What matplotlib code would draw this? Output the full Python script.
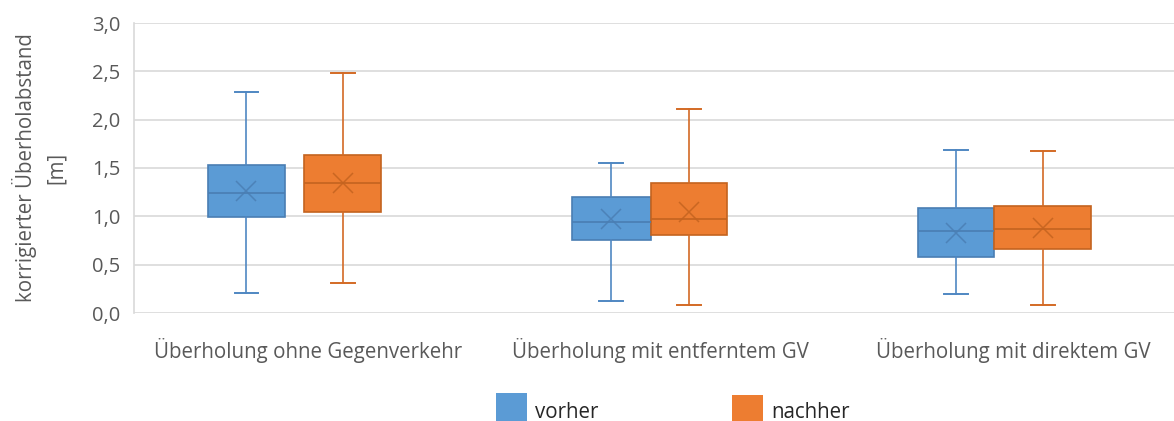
import matplotlib
matplotlib.use("Agg")
import matplotlib.pyplot as plt
from matplotlib.patches import Rectangle

# ---- data ----
categories = ["Überholung ohne Gegenverkehr", "Überholung mit entferntem GV", "Überholung mit direktem GV"]
series = ["vorher", "nachher"]

vorher_whislo = [0.21, 0.12, 0.20]
vorher_q1 = [0.99, 0.76, 0.58]
vorher_med = [1.24, 0.94, 0.85]
vorher_q3 = [1.53, 1.20, 1.09]
vorher_whishi = [2.29, 1.55, 1.69]
vorher_mean = [1.26, 0.97, 0.83]

nachher_whislo = [0.31, 0.08, 0.08]
nachher_q1 = [1.05, 0.81, 0.66]
nachher_med = [1.35, 0.97, 0.87]
nachher_q3 = [1.63, 1.34, 1.11]
nachher_whishi = [2.48, 2.11, 1.68]
nachher_mean = [1.34, 1.05, 0.88]

yticks = [0.0, 0.5, 1.0, 1.5, 2.0, 2.5, 3.0]
ytick_labels = ["0,0", "0,5", "1,0", "1,5", "2,0", "2,5", "3,0"]
ylabel = "korrigierter Überholabstand\n[m]"

# ---- layout ----
W, H = 1174, 421
FONT = ["Open Sans", "DejaVu Sans"]
plt.rcParams["font.family"] = FONT

fig = plt.figure(figsize=(W / 100, H / 100), dpi=100)
ax_left, ax_right, ax_top, ax_bot = 134, 1189, 23, 313
ax = fig.add_axes([ax_left / W, (H - ax_bot) / H, (ax_right - ax_left) / W, (ax_bot - ax_top) / H])

blue_off = [-0.1745, -0.140, -0.162]
orange_off = [0.098, 0.081, 0.084]
blue_w = [0.218, 0.224, 0.216]
orange_w = [0.218, 0.216, 0.275]
cap_w = 0.068

styles = {
    "vorher": dict(fill="#5B9BD5", edge="#4A7EB3", line="#4F87C2"),
    "nachher": dict(fill="#ED7D31", edge="#C4631F", line="#D36A25"),
}


def make_stats(lo, q1, med, q3, hi, mean):
    return [dict(whislo=a, q1=b, med=c, q3=d, whishi=e, mean=f, fliers=[])
            for a, b, c, d, e, f in zip(lo, q1, med, q3, hi, mean)]


data = {
    "vorher": (make_stats(vorher_whislo, vorher_q1, vorher_med, vorher_q3, vorher_whishi, vorher_mean), blue_off, blue_w),
    "nachher": (make_stats(nachher_whislo, nachher_q1, nachher_med, nachher_q3, nachher_whishi, nachher_mean), orange_off, orange_w),
}

for name in series:
    stats, offs, widths = data[name]
    st = styles[name]
    pos = [i + o for i, o in enumerate(offs)]
    ax.bxp(stats, positions=pos, widths=widths, showmeans=True, showfliers=False,
           patch_artist=True, capwidths=[cap_w] * len(stats),
           boxprops=dict(facecolor=st["fill"], edgecolor=st["edge"], linewidth=1.2),
           medianprops=dict(color=st["edge"], linewidth=1.2),
           whiskerprops=dict(color=st["line"], linewidth=1.2),
           capprops=dict(color=st["line"], linewidth=1.4),
           meanprops=dict(marker="x", markersize=15, markeredgewidth=1.1,
                          markeredgecolor=st["edge"], alpha=0.85),
           zorder=3)

x0 = -(308 - ax_left) / 352.5
x1 = x0 + (ax_right - ax_left) / 352.5
ax.set_xlim(x0, x1)
ax.set_ylim(0, 3.0)
ax.set_yticks(yticks)
ax.set_yticklabels(ytick_labels)
ax.set_xticks(range(len(categories)))
ax.set_xticklabels(categories)
ax.yaxis.grid(True, color="#D9D9D9", linewidth=1.2, zorder=0)
ax.set_axisbelow(True)
for s in ["top", "right", "bottom"]:
    ax.spines[s].set_visible(False)
ax.spines["left"].set_color("#D9D9D9")
ax.spines["left"].set_linewidth(1.2)
ax.tick_params(axis="both", length=0, colors="#595959")
ax.tick_params(axis="y", pad=10, labelsize=14.5)
ax.tick_params(axis="x", pad=18, labelsize=14.8)
ax.set_ylabel(ylabel, fontsize=14.8, color="#595959", labelpad=18, linespacing=1.55)

# legend (manual, partly cut by the bottom edge as in the reference)
colors = [styles[s]["fill"] for s in series]
leg_x = [496, 732]
leg_top = [393, 395]
for xs, yt, col, name in zip(leg_x, leg_top, colors, series):
    fig.add_artist(Rectangle((xs / W, 0), 31 / W, (H - yt) / H, transform=fig.transFigure,
                             facecolor=col, edgecolor="none"))
    fig.text((xs + 39) / W, (H - 418) / H, name, fontsize=14.8, color="#262626", va="baseline")

fig.savefig("out.png", dpi=100)
